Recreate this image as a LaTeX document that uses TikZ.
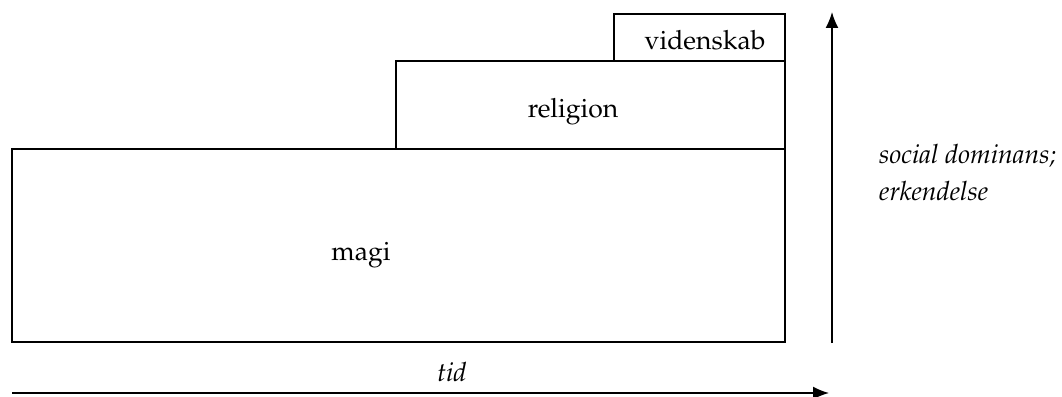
\documentclass[tikz,border=0pt]{standalone}
\usepackage[T1]{fontenc}
\usepackage{mathpazo}
\usetikzlibrary{arrows.meta}
\tikzset{
  box/.style={draw=black, line width=2.5pt, fill=none},
  lbl/.style={anchor=base, inner sep=0pt, font=\fontsize{26.5}{32}\selectfont},
  ilbl/.style={anchor=base west, inner sep=0pt, font=\fontsize{26.5}{32}\selectfont\itshape},
  axis/.style={line width=1.6pt, -{Latex[length=16pt,width=13pt]}}
}
\begin{document}
\begin{tikzpicture}[x=1pt,y=-1pt]
\useasboundingbox (0,0) rectangle (1062,396);
% boxes
\draw[box] (12,149) rectangle (785,342);
\draw[box] (396,61) rectangle (785,149);
\draw[box] (614,14) rectangle (785,61);
% labels
\node[lbl] (magi) at (361,260) {magi};
\node[lbl] (religion) at (573,117) {religion};
\node[lbl] (videnskab) at (705,50) {videnskab};
\node[lbl, font=\fontsize{26.5}{32}\selectfont\itshape] (tid) at (452,381) {tid};
\node[ilbl] (sd) at (879,163) {social dominans;};
\node[ilbl] (erk) at (879,200) {erkendelse};
% axes
\coordinate (vS) at (832,343);
\coordinate (vE) at (832,12);
\coordinate (hS) at (12,393);
\coordinate (hE) at (829,393);
\draw[axis] (vS) -- (vE);
\draw[axis] (hS) -- (hE);
\end{tikzpicture}
\end{document}
